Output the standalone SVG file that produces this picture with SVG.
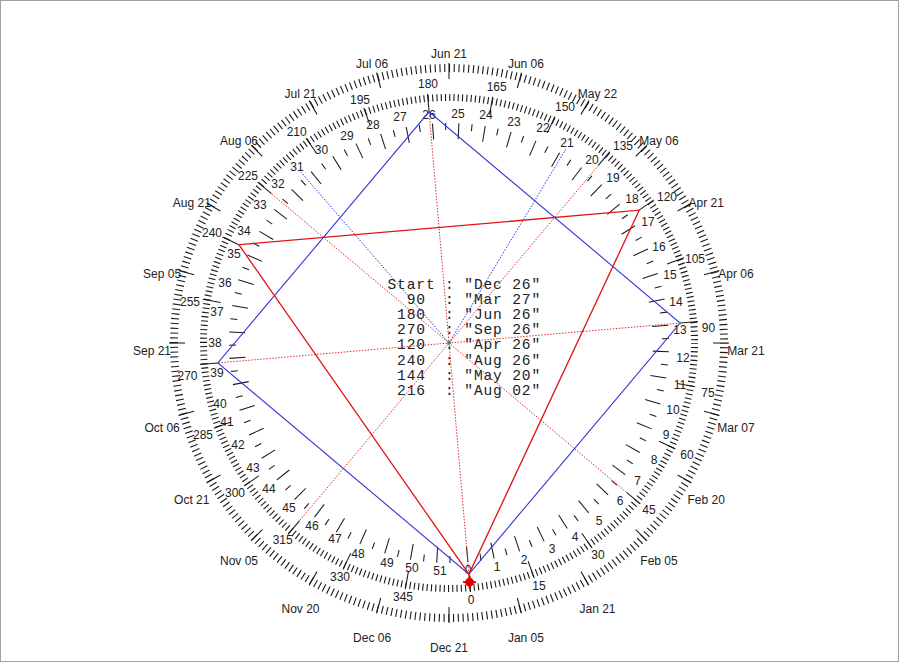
<svg xmlns="http://www.w3.org/2000/svg" width="900" height="663" viewBox="0 0 900 663">
<style>
.lbl{font-family:"Liberation Sans",Arial,sans-serif;font-size:12px;fill:#222;text-anchor:middle;dominant-baseline:central}
.tk{stroke:#1a1a1a;stroke-width:1.05}
.mono{font-family:"Liberation Mono","Courier New",monospace;font-size:14.6px;letter-spacing:0.84px;fill:#222;white-space:pre}
.blue{stroke:#3535d8;stroke-width:1.1;fill:none}
.red{stroke:#e01515;stroke-width:1.3;fill:none}
.rdot{stroke:#e03030;stroke-width:1;stroke-dasharray:1.5 1.5}
.bdot{stroke:#3030e0;stroke-width:1;stroke-dasharray:1.5 1.5}
</style>
<defs>
<line id="dmaj" class="tk" x1="449" y1="607" x2="449" y2="623"/>
<line id="gmaj" class="tk" x1="449" y1="575" x2="449" y2="593"/>
<line id="wl" class="tk" x1="449" y1="547" x2="449" y2="563"/>
<line id="ws" class="tk" x1="449" y1="556" x2="449" y2="563"/>
</defs>
<rect x="0.5" y="0.5" width="898" height="661" fill="#fff" stroke="#a0a0a0"/>

<g id="date-ring">
<circle cx="449" cy="343" r="275" fill="none" stroke="#1a1a1a" stroke-width="8" stroke-dasharray="1.1 3.69966" stroke-dashoffset="0.55"/>
<use href="#dmaj"/>
<use href="#dmaj" transform="rotate(-15 449 343)"/>
<use href="#dmaj" transform="rotate(-30 449 343)"/>
<use href="#dmaj" transform="rotate(-45 449 343)"/>
<use href="#dmaj" transform="rotate(-60 449 343)"/>
<use href="#dmaj" transform="rotate(-75 449 343)"/>
<use href="#dmaj" transform="rotate(-90 449 343)"/>
<use href="#dmaj" transform="rotate(-105 449 343)"/>
<use href="#dmaj" transform="rotate(-120 449 343)"/>
<use href="#dmaj" transform="rotate(-135 449 343)"/>
<use href="#dmaj" transform="rotate(-150 449 343)"/>
<use href="#dmaj" transform="rotate(-165 449 343)"/>
<use href="#dmaj" transform="rotate(-180 449 343)"/>
<use href="#dmaj" transform="rotate(-195 449 343)"/>
<use href="#dmaj" transform="rotate(-210 449 343)"/>
<use href="#dmaj" transform="rotate(-225 449 343)"/>
<use href="#dmaj" transform="rotate(-240 449 343)"/>
<use href="#dmaj" transform="rotate(-255 449 343)"/>
<use href="#dmaj" transform="rotate(-270 449 343)"/>
<use href="#dmaj" transform="rotate(-285 449 343)"/>
<use href="#dmaj" transform="rotate(-300 449 343)"/>
<use href="#dmaj" transform="rotate(-315 449 343)"/>
<use href="#dmaj" transform="rotate(-330 449 343)"/>
<use href="#dmaj" transform="rotate(-345 449 343)"/>
</g>

<g id="degree-ring">
<circle cx="449" cy="343" r="245.5" fill="none" stroke="#1a1a1a" stroke-width="7" stroke-dasharray="1.1 3.18478" stroke-dashoffset="0.25"/>
<use href="#gmaj" transform="rotate(-4.93 449 343)"/>
<use href="#gmaj" transform="rotate(-19.93 449 343)"/>
<use href="#gmaj" transform="rotate(-34.93 449 343)"/>
<use href="#gmaj" transform="rotate(-49.93 449 343)"/>
<use href="#gmaj" transform="rotate(-64.93 449 343)"/>
<use href="#gmaj" transform="rotate(-79.93 449 343)"/>
<use href="#gmaj" transform="rotate(-94.93 449 343)"/>
<use href="#gmaj" transform="rotate(-109.93 449 343)"/>
<use href="#gmaj" transform="rotate(-124.93 449 343)"/>
<use href="#gmaj" transform="rotate(-139.93 449 343)"/>
<use href="#gmaj" transform="rotate(-154.93 449 343)"/>
<use href="#gmaj" transform="rotate(-169.93 449 343)"/>
<use href="#gmaj" transform="rotate(-184.93 449 343)"/>
<use href="#gmaj" transform="rotate(-199.93 449 343)"/>
<use href="#gmaj" transform="rotate(-214.93 449 343)"/>
<use href="#gmaj" transform="rotate(-229.93 449 343)"/>
<use href="#gmaj" transform="rotate(-244.93 449 343)"/>
<use href="#gmaj" transform="rotate(-259.93 449 343)"/>
<use href="#gmaj" transform="rotate(-274.93 449 343)"/>
<use href="#gmaj" transform="rotate(-289.93 449 343)"/>
<use href="#gmaj" transform="rotate(-304.93 449 343)"/>
<use href="#gmaj" transform="rotate(-319.93 449 343)"/>
<use href="#gmaj" transform="rotate(-334.93 449 343)"/>
<use href="#gmaj" transform="rotate(-349.93 449 343)"/>
</g>

<g id="week-ticks">
<use href="#wl" transform="rotate(-4.93 449 343)"/>
<use href="#wl" transform="rotate(-11.83 449 343)"/>
<use href="#wl" transform="rotate(-18.73 449 343)"/>
<use href="#wl" transform="rotate(-25.63 449 343)"/>
<use href="#wl" transform="rotate(-32.53 449 343)"/>
<use href="#wl" transform="rotate(-39.43 449 343)"/>
<use href="#wl" transform="rotate(-46.33 449 343)"/>
<use href="#wl" transform="rotate(-53.23 449 343)"/>
<use href="#wl" transform="rotate(-60.13 449 343)"/>
<use href="#wl" transform="rotate(-67.02 449 343)"/>
<use href="#wl" transform="rotate(-73.92 449 343)"/>
<use href="#wl" transform="rotate(-80.82 449 343)"/>
<use href="#wl" transform="rotate(-87.72 449 343)"/>
<use href="#wl" transform="rotate(-94.62 449 343)"/>
<use href="#wl" transform="rotate(-101.52 449 343)"/>
<use href="#wl" transform="rotate(-108.42 449 343)"/>
<use href="#wl" transform="rotate(-115.32 449 343)"/>
<use href="#wl" transform="rotate(-122.22 449 343)"/>
<use href="#wl" transform="rotate(-129.12 449 343)"/>
<use href="#wl" transform="rotate(-136.02 449 343)"/>
<use href="#wl" transform="rotate(-142.92 449 343)"/>
<use href="#wl" transform="rotate(-149.82 449 343)"/>
<use href="#wl" transform="rotate(-156.72 449 343)"/>
<use href="#wl" transform="rotate(-163.62 449 343)"/>
<use href="#wl" transform="rotate(-170.52 449 343)"/>
<use href="#wl" transform="rotate(-177.42 449 343)"/>
<use href="#wl" transform="rotate(-184.31 449 343)"/>
<use href="#wl" transform="rotate(-191.21 449 343)"/>
<use href="#wl" transform="rotate(-198.11 449 343)"/>
<use href="#wl" transform="rotate(-205.01 449 343)"/>
<use href="#wl" transform="rotate(-211.91 449 343)"/>
<use href="#wl" transform="rotate(-218.81 449 343)"/>
<use href="#wl" transform="rotate(-225.71 449 343)"/>
<use href="#wl" transform="rotate(-232.61 449 343)"/>
<use href="#wl" transform="rotate(-239.51 449 343)"/>
<use href="#wl" transform="rotate(-246.41 449 343)"/>
<use href="#wl" transform="rotate(-253.31 449 343)"/>
<use href="#wl" transform="rotate(-260.21 449 343)"/>
<use href="#wl" transform="rotate(-267.11 449 343)"/>
<use href="#wl" transform="rotate(-274.01 449 343)"/>
<use href="#wl" transform="rotate(-280.91 449 343)"/>
<use href="#wl" transform="rotate(-287.81 449 343)"/>
<use href="#wl" transform="rotate(-294.71 449 343)"/>
<use href="#wl" transform="rotate(-301.60 449 343)"/>
<use href="#wl" transform="rotate(-308.50 449 343)"/>
<use href="#wl" transform="rotate(-315.40 449 343)"/>
<use href="#wl" transform="rotate(-322.30 449 343)"/>
<use href="#wl" transform="rotate(-329.20 449 343)"/>
<use href="#wl" transform="rotate(-336.10 449 343)"/>
<use href="#wl" transform="rotate(-343.00 449 343)"/>
<use href="#wl" transform="rotate(-349.90 449 343)"/>
<use href="#wl" transform="rotate(-356.80 449 343)"/>
<use href="#ws" transform="rotate(-8.38 449 343)"/>
<use href="#ws" transform="rotate(-15.28 449 343)"/>
<use href="#ws" transform="rotate(-22.18 449 343)"/>
<use href="#ws" transform="rotate(-29.08 449 343)"/>
<use href="#ws" transform="rotate(-35.98 449 343)"/>
<use href="#ws" transform="rotate(-42.88 449 343)"/>
<use href="#ws" transform="rotate(-49.78 449 343)"/>
<use href="#ws" transform="rotate(-56.68 449 343)"/>
<use href="#ws" transform="rotate(-63.58 449 343)"/>
<use href="#ws" transform="rotate(-70.47 449 343)"/>
<use href="#ws" transform="rotate(-77.37 449 343)"/>
<use href="#ws" transform="rotate(-84.27 449 343)"/>
<use href="#ws" transform="rotate(-91.17 449 343)"/>
<use href="#ws" transform="rotate(-98.07 449 343)"/>
<use href="#ws" transform="rotate(-104.97 449 343)"/>
<use href="#ws" transform="rotate(-111.87 449 343)"/>
<use href="#ws" transform="rotate(-118.77 449 343)"/>
<use href="#ws" transform="rotate(-125.67 449 343)"/>
<use href="#ws" transform="rotate(-132.57 449 343)"/>
<use href="#ws" transform="rotate(-139.47 449 343)"/>
<use href="#ws" transform="rotate(-146.37 449 343)"/>
<use href="#ws" transform="rotate(-153.27 449 343)"/>
<use href="#ws" transform="rotate(-160.17 449 343)"/>
<use href="#ws" transform="rotate(-167.07 449 343)"/>
<use href="#ws" transform="rotate(-173.97 449 343)"/>
<use href="#ws" transform="rotate(-180.87 449 343)"/>
<use href="#ws" transform="rotate(-187.76 449 343)"/>
<use href="#ws" transform="rotate(-194.66 449 343)"/>
<use href="#ws" transform="rotate(-201.56 449 343)"/>
<use href="#ws" transform="rotate(-208.46 449 343)"/>
<use href="#ws" transform="rotate(-215.36 449 343)"/>
<use href="#ws" transform="rotate(-222.26 449 343)"/>
<use href="#ws" transform="rotate(-229.16 449 343)"/>
<use href="#ws" transform="rotate(-236.06 449 343)"/>
<use href="#ws" transform="rotate(-242.96 449 343)"/>
<use href="#ws" transform="rotate(-249.86 449 343)"/>
<use href="#ws" transform="rotate(-256.76 449 343)"/>
<use href="#ws" transform="rotate(-263.66 449 343)"/>
<use href="#ws" transform="rotate(-270.56 449 343)"/>
<use href="#ws" transform="rotate(-277.46 449 343)"/>
<use href="#ws" transform="rotate(-284.36 449 343)"/>
<use href="#ws" transform="rotate(-291.26 449 343)"/>
<use href="#ws" transform="rotate(-298.16 449 343)"/>
<use href="#ws" transform="rotate(-305.05 449 343)"/>
<use href="#ws" transform="rotate(-311.95 449 343)"/>
<use href="#ws" transform="rotate(-318.85 449 343)"/>
<use href="#ws" transform="rotate(-325.75 449 343)"/>
<use href="#ws" transform="rotate(-332.65 449 343)"/>
<use href="#ws" transform="rotate(-339.55 449 343)"/>
<use href="#ws" transform="rotate(-346.45 449 343)"/>
<use href="#ws" transform="rotate(-353.35 449 343)"/>
<use href="#ws" transform="rotate(-0.25 449 343)"/>
</g>

<g id="date-labels" class="lbl">
<text x="449" y="648.3">Dec 21</text>
<text x="525.9" y="638.2">Jan 05</text>
<text x="597.5" y="608.5">Jan 21</text>
<text x="659" y="561.3">Feb 05</text>
<text x="706.2" y="499.8">Feb 20</text>
<text x="735.9" y="428.2">Mar 07</text>
<text x="746" y="351.3">Mar 21</text>
<text x="735.9" y="274.4">Apr 06</text>
<text x="706.2" y="202.8">Apr 21</text>
<text x="659" y="141.3">May 06</text>
<text x="597.5" y="94.1">May 22</text>
<text x="525.9" y="64.4">Jun 06</text>
<text x="449" y="54.3">Jun 21</text>
<text x="372.1" y="64.4">Jul 06</text>
<text x="300.5" y="94.1">Jul 21</text>
<text x="239" y="141.3">Aug 06</text>
<text x="191.8" y="202.8">Aug 21</text>
<text x="162.1" y="274.4">Sep 05</text>
<text x="152" y="351.3">Sep 21</text>
<text x="162.1" y="428.2">Oct 06</text>
<text x="191.8" y="499.8">Oct 21</text>
<text x="239" y="561.3">Nov 05</text>
<text x="300.5" y="608.5">Nov 20</text>
<text x="372.1" y="638.2">Dec 06</text>
</g>

<g id="degree-labels" class="lbl">
<text x="471" y="599.5">0</text>
<text x="539" y="586">15</text>
<text x="598" y="555">30</text>
<text x="649" y="510">45</text>
<text x="687" y="455">60</text>
<text x="708" y="393">75</text>
<text x="708.5" y="327.5">90</text>
<text x="695" y="259">105</text>
<text x="667" y="197">120</text>
<text x="623" y="146">135</text>
<text x="565" y="107">150</text>
<text x="496.7" y="86.7">165</text>
<text x="428" y="84">180</text>
<text x="360" y="100">195</text>
<text x="296.7" y="131.7">210</text>
<text x="248" y="176">225</text>
<text x="212" y="233">240</text>
<text x="190" y="302">255</text>
<text x="187.5" y="376">270</text>
<text x="203" y="435">285</text>
<text x="235" y="492.7">300</text>
<text x="282.7" y="540">315</text>
<text x="340" y="577">330</text>
<text x="403" y="597">345</text>
</g>

<g id="week-labels" class="lbl">
<text x="468" y="570">0</text>
<text x="497" y="567">1</text>
<text x="524" y="560">2</text>
<text x="552" y="549">3</text>
<text x="575" y="537">4</text>
<text x="599" y="520.5">5</text>
<text x="620" y="501">6</text>
<text x="637.5" y="481">7</text>
<text x="654" y="460">8</text>
<text x="666" y="435">9</text>
<text x="673" y="410">10</text>
<text x="680" y="385">11</text>
<text x="683" y="358">12</text>
<text x="680" y="329.5">13</text>
<text x="676" y="301.5">14</text>
<text x="670" y="275">15</text>
<text x="659" y="247">16</text>
<text x="648" y="222">17</text>
<text x="632" y="199">18</text>
<text x="613" y="177.5">19</text>
<text x="592" y="160">20</text>
<text x="567" y="143">21</text>
<text x="543" y="128">22</text>
<text x="514" y="122">23</text>
<text x="486" y="115">24</text>
<text x="458" y="114">25</text>
<text x="429" y="115">26</text>
<text x="400" y="117">27</text>
<text x="373" y="125">28</text>
<text x="347" y="136">29</text>
<text x="321.5" y="150">30</text>
<text x="297" y="167">31</text>
<text x="278" y="184">32</text>
<text x="260" y="205">33</text>
<text x="244" y="231">34</text>
<text x="234" y="254">35</text>
<text x="225" y="283">36</text>
<text x="217" y="312">37</text>
<text x="215" y="343">38</text>
<text x="217" y="373">39</text>
<text x="220" y="404">40</text>
<text x="227" y="422">41</text>
<text x="238" y="445">42</text>
<text x="253" y="468">43</text>
<text x="269" y="489">44</text>
<text x="289" y="508">45</text>
<text x="312" y="526">46</text>
<text x="335" y="539">47</text>
<text x="358" y="554">48</text>
<text x="387" y="563">49</text>
<text x="412" y="568">50</text>
<text x="440" y="571">51</text>
</g>

<g id="info-text" class="mono">
<text x="387.5" y="288.5" xml:space="preserve">Start : "Dec 26"</text>
<text x="387.5" y="303.7" xml:space="preserve">  90  : "Mar 27"</text>
<text x="387.5" y="318.9" xml:space="preserve"> 180  : "Jun 26"</text>
<text x="387.5" y="334.1" xml:space="preserve"> 270  : "Sep 26"</text>
<text x="387.5" y="349.3" xml:space="preserve"> 120  : "Apr 26"</text>
<text x="387.5" y="364.5" xml:space="preserve"> 240  : "Aug 26"</text>
<text x="387.5" y="379.7" xml:space="preserve"> 144  : "May 20"</text>
<text x="387.5" y="394.9" xml:space="preserve"> 216  : "Aug 02"</text>
</g>

<g id="connectors">
<line class="rdot" x1="468.94" y1="574.14" x2="429.06" y2="111.86"/>
<line class="rdot" x1="680.14" y1="323.06" x2="217.86" y2="362.94"/>
<line class="rdot" x1="626.54" y1="492.35" x2="271.46" y2="193.65"/>
<line class="rdot" x1="598.35" y1="165.46" x2="299.65" y2="520.54"/>
<line class="bdot" x1="449" y1="343" x2="565.61" y2="149.41"/>
<line class="bdot" x1="449" y1="343" x2="300.93" y2="172.26"/>
<polygon class="blue" points="468.94,574.14 680.14,323.06 429.06,111.86 217.86,362.94"/>
<polygon class="red" points="468.94,574.14 639.21,210.17 238.85,244.71"/>
</g>

<g id="markers">
<circle cx="449" cy="343" r="1.6" fill="none" stroke="#3c3" stroke-width="1"/>
<circle cx="680.1" cy="323.1" r="1.3" fill="none" stroke="#5c5" stroke-width="0.8"/>
<g id="start-dot" stroke="#e00000" stroke-width="2">
<circle cx="469.6" cy="582.1" r="4.3" fill="#e00000" stroke="none"/>
<line x1="469.6" y1="575.6" x2="469.6" y2="588.6"/>
<line x1="463.1" y1="582.1" x2="476.1" y2="582.1"/>
</g>
</g>
</svg>
